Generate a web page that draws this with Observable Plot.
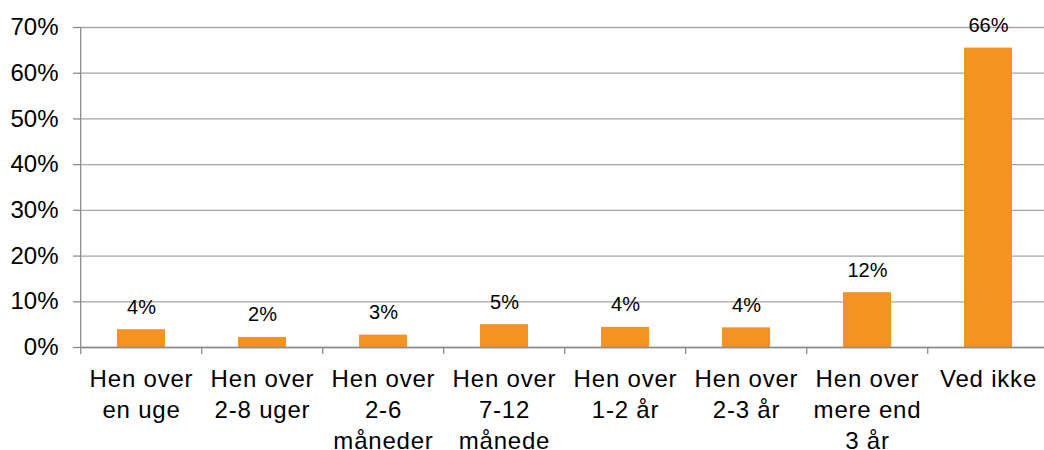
<!DOCTYPE html>
<html>
<head>
<meta charset="utf-8">
<script src="https://cdn.jsdelivr.net/npm/d3@7"></script>
<script src="https://cdn.jsdelivr.net/npm/@observablehq/plot@0.6"></script>
<style>
  body { margin: 0; background: #fff; }
  #chart svg { display: block; }
  g[aria-label="x-axis tick label"] text { letter-spacing: 0.8px; }
</style>
</head>
<body>
<div id="chart"></div>
<script>
const categories = [
  "Hen over\nen uge",
  "Hen over\n2-8 uger",
  "Hen over\n2-6\nmåneder",
  "Hen over\n7-12\nmånede",
  "Hen over\n1-2 år",
  "Hen over\n2-3 år",
  "Hen over\nmere end\n3 år",
  "Ved ikke"
];
const values = [0.039, 0.022, 0.027, 0.050, 0.044, 0.043, 0.120, 0.655];
const yTicks = [0, 0.1, 0.2, 0.3, 0.4, 0.5, 0.6, 0.7];

const data = categories.map((c, i) => ({category: c, value: values[i]}));

const axisColor = "#8c8c8c";
const gridColor = "#a6a6a6";
const barColor = "#F39422";

// left axis line and category boundary ticks, placed through the x and y scales
const boundaryTicks = (index, scales) => {
  const x = scales.x, y = scales.y;
  const step = x(categories[1]) - x(categories[0]);
  const y0 = y(0);
  const g = d3.create("svg:g");
  const left = x(categories[0]) - 0.3 * step;
  g.append("line").attr("x1", left).attr("x2", left)
    .attr("y1", y(d3.max(yTicks))).attr("y2", y0 + 7)
    .attr("stroke", axisColor).attr("stroke-width", 1.3);
  categories.forEach((c, i) => {
    if (i === 0) return;
    const xb = x(c) - 0.3 * step;
    g.append("line").attr("x1", xb).attr("x2", xb)
      .attr("y1", y0).attr("y2", y0 + 7)
      .attr("stroke", axisColor).attr("stroke-width", 1.3);
  });
  return g.node();
};

const chart = Plot.plot({
  width: 1044,
  height: 450,
  marginTop: 27,
  marginBottom: 103,
  marginLeft: 80,
  marginRight: 0,
  style: {fontFamily: "'Liberation Sans', Arial, sans-serif", color: "#000", background: "#fff"},
  x: {type: "band", domain: categories, range: [80, 1050], paddingInner: 0.6, paddingOuter: 0.3, axis: null},
  y: {domain: [0, 0.7], axis: null},
  marks: [
    Plot.gridY(yTicks, {stroke: gridColor, strokeOpacity: 1, strokeWidth: 1.3}),
    Plot.axisY(yTicks, {
      tickFormat: d3.format(".0%"),
      tickSize: 7,
      tickPadding: 15,
      fontSize: 24,
      stroke: axisColor,
      strokeWidth: 1.3,
      fill: "#000",
      label: null
    }),
    Plot.barY(data, {x: "category", y: "value", fill: barColor}),
    Plot.ruleY([0], {stroke: axisColor, strokeWidth: 1.3}),
    boundaryTicks,
    Plot.text(data, {
      x: "category",
      y: "value",
      text: d => d3.format(".0%")(d.value),
      lineAnchor: "bottom",
      dy: -16,
      fontSize: 20,
      fill: "#000"
    }),
    Plot.axisX({
      tickSize: 0,
      tickPadding: 18,
      fontSize: 24,
      lineHeight: 1.29,
      fill: "#000",
      label: null
    })
  ]
});

document.getElementById("chart").appendChild(chart);
</script>
</body>
</html>
